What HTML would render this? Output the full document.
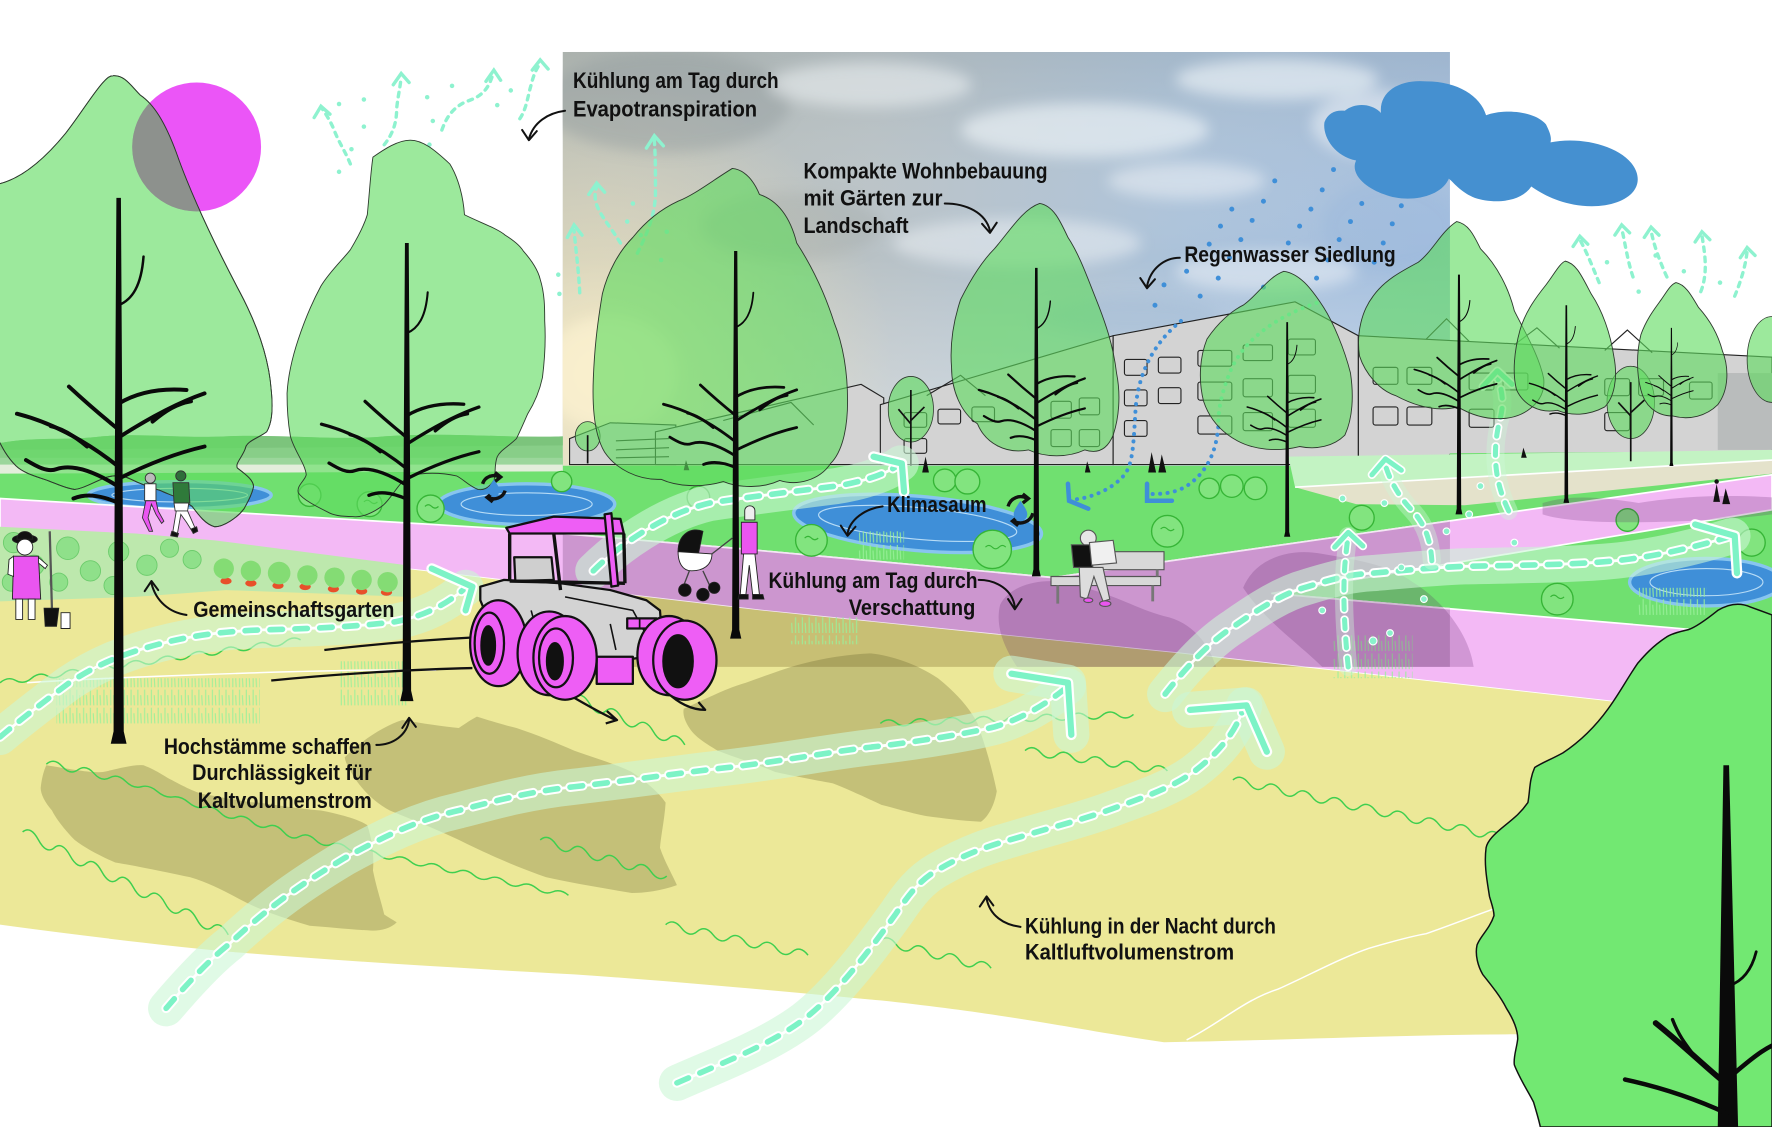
<!DOCTYPE html>
<html><head><meta charset="utf-8">
<style>
html,body{margin:0;padding:0;background:#fff;overflow:hidden;}
svg{display:block;}
.lb{font-family:"Liberation Sans Narrow","Liberation Sans",sans-serif;font-size:20px;font-weight:bold;fill:#111;}
</style></head><body>
<svg xmlns="http://www.w3.org/2000/svg" xmlns:xlink="http://www.w3.org/1999/xlink" width="1772" height="1127" viewBox="0 0 1568 997" preserveAspectRatio="none">
<defs>
  <linearGradient id="skyH" x1="0" y1="0" x2="1" y2="0">
    <stop offset="0" stop-color="#b6bbb4"/>
    <stop offset="0.35" stop-color="#b9c2c6"/>
    <stop offset="0.7" stop-color="#abc2da"/>
    <stop offset="1" stop-color="#a3bedf"/>
  </linearGradient>
  <linearGradient id="skyV" x1="0" y1="0" x2="0" y2="1">
    <stop offset="0" stop-color="#8f9a9c" stop-opacity="0.25"/>
    <stop offset="0.5" stop-color="#ffffff" stop-opacity="0"/>
    <stop offset="1" stop-color="#eef2f4" stop-opacity="0.5"/>
  </linearGradient>
  <radialGradient id="glow" cx="530" cy="330" r="260" gradientUnits="userSpaceOnUse">
    <stop offset="0" stop-color="#f8edc6" stop-opacity="1"/>
    <stop offset="0.5" stop-color="#ece2c0" stop-opacity="0.55"/>
    <stop offset="1" stop-color="#e9dfbf" stop-opacity="0"/>
  </radialGradient>
  <filter id="bl" x="-20%" y="-50%" width="140%" height="200%"><feGaussianBlur stdDeviation="6"/></filter>
  <clipPath id="pb"><rect x="498" y="395" width="785" height="195"/></clipPath>
  <clipPath id="sky"><rect x="498" y="46" width="785" height="366"/></clipPath>
  <pattern id="grass" width="6" height="16" patternUnits="userSpaceOnUse">
    <path d="M2,16 L2,2 M5,16 L4.5,7" stroke="#9af09a" stroke-width="1"/>
  </pattern>

  <path id="cr1" d="M100,67 C110,66 116,76 124,84 C136,92 146,108 156,135 C170,175 192,220 212,258 C228,288 238,318 240,345 C242,365 240,375 236,382 C228,388 218,390 217,397 C214,405 208,410 210,414 C218,420 226,426 224,432 C222,440 218,446 216,450 C210,458 198,466 190,466 C182,464 176,456 170,448 C160,440 150,438 142,434 C130,430 124,428 116,424 C108,420 100,420 92,423 C82,427 74,432 66,433 C58,432 50,428 42,425 C30,421 20,418 14,412 C6,404 2,396 -2,388 L-2,163 C20,158 40,140 58,118 C72,100 84,80 92,72 C95,69 97,67 100,67 Z"/>
  <clipPath id="cT1"><use xlink:href="#cr1" href="#cr1"/></clipPath>

  <g id="sk">
    <path d="M-2,0 L2,0 L3.5,250 L4.5,472 L7,483 L-7,483 L-4.5,472 L-3.5,250 Z" fill="#0a0a0a"/>
    <g fill="none" stroke="#0a0a0a" stroke-linecap="round" stroke-width="3.5">
      <path d="M0,238 C-25,218 -55,200 -90,191"/>
      <path d="M-1,255 C-20,243 -40,235 -55,240 C-63,243 -72,238 -82,232"/>
      <path d="M0,205 C-15,193 -30,180 -44,167"/>
      <path d="M-28,220 C-40,210 -50,204 -60,202"/>
      <path d="M0,212 C25,196 50,182 76,173"/>
      <path d="M1,248 C25,236 50,226 76,220"/>
      <path d="M0,182 C15,173 35,168 60,170"/>
      <path d="M30,198 C42,188 52,182 64,180"/>
      <path d="M0,270 C-18,262 -30,262 -40,266"/>
      <path d="M0,95 C12,90 20,78 22,52" stroke-width="2.2"/>
    </g>
  </g>

  <path id="fA" d="M0,652 C20,635 40,620 60,605 C85,588 110,578 140,570 C170,562 200,558 240,557 C280,556 320,554 350,550 C375,545 395,535 412,520"/>
  <path id="fA2" d="M525,505 C545,485 585,455 628,445 C660,440 700,435 740,430 C770,425 788,417 797,410"/>
  <path id="fB" d="M147,892 C170,865 190,845 203,835 C240,800 270,780 305,759 C340,740 370,725 406,717 C440,708 470,700 508,696 C560,690 600,684 635,680 C690,674 740,664 779,660 C820,655 860,648 880,643 C905,636 930,620 945,607"/>
  <path id="fC" d="M599,958 C640,940 680,925 711,902 C740,880 770,840 793,808 C805,790 815,778 829,770 C860,752 880,747 904,740 C930,732 955,726 980,717 C1010,706 1035,698 1056,683 C1080,665 1095,645 1101,624"/>
  <path id="fD" d="M1031,614 C1050,590 1070,568 1092,554 C1115,538 1135,525 1157,519 C1180,512 1195,508 1215,507 C1250,504 1270,502 1296,501 C1340,500 1380,500 1419,497 C1460,494 1500,484 1533,474"/>
  <path id="hA" d="M382,503 L418,519 L412,540"/>
  <path id="hA2" d="M773,404 L798,410 L800,435"/>
  <path id="hB" d="M895,596 L945,604 L948,650"/>
  <path id="hC" d="M1053,628 L1103,624 L1121,665"/>
  <path id="hD" d="M1500,464 L1535,474 L1537,507"/>
  <path id="e1" d="M1193,590 C1190,560 1188,530 1190,500 C1191,490 1192,480 1193,474"/>
  <path id="e2" d="M1267,496 C1266,480 1262,465 1250,452 C1238,440 1230,425 1226,412"/>
  <path id="e3" d="M1335,452 C1322,425 1320,398 1328,368 C1331,355 1329,345 1325,334"/>
  <path id="h1" d="M1181,484 L1193,471 L1206,483"/>
  <path id="h2" d="M1214,420 L1226,406 L1240,416"/>
  <path id="h3" d="M1312,342 L1325,328 L1338,340"/>
</defs>

<rect width="1568" height="997" fill="#fff"/>

<!-- SKY PHOTO -->
<rect x="498" y="46" width="785" height="366" fill="url(#skyH)"/>
<rect x="498" y="46" width="785" height="366" fill="url(#skyV)"/>
<rect x="498" y="46" width="785" height="366" fill="url(#glow)"/>
<g filter="url(#bl)" clip-path="url(#sky)">
  <ellipse cx="590" cy="90" rx="110" ry="45" fill="#939c9e" opacity="0.45"/>
  <ellipse cx="700" cy="200" rx="80" ry="30" fill="#a0a6a3" opacity="0.35"/>
  <ellipse cx="770" cy="75" rx="90" ry="20" fill="#eef2f4" opacity="0.55"/>
  <ellipse cx="960" cy="115" rx="110" ry="24" fill="#f2f6fa" opacity="0.6"/>
  <ellipse cx="1130" cy="70" rx="90" ry="18" fill="#f2f6fa" opacity="0.6"/>
  <ellipse cx="1050" cy="160" rx="70" ry="16" fill="#f2f6fa" opacity="0.5"/>
  <ellipse cx="900" cy="215" rx="110" ry="22" fill="#f0f4f8" opacity="0.5"/>
  <ellipse cx="1120" cy="240" rx="80" ry="18" fill="#f2f6fa" opacity="0.5"/>
  <ellipse cx="1220" cy="110" rx="60" ry="30" fill="#f4f7fb" opacity="0.5"/>
  <ellipse cx="1000" cy="280" rx="80" ry="18" fill="#a3bcd6" opacity="0.5"/>
  <ellipse cx="1230" cy="200" rx="60" ry="40" fill="#9db9dc" opacity="0.5"/>
  <ellipse cx="540" cy="330" rx="60" ry="50" fill="#fbf1d0" opacity="0.7"/>
</g>

<!-- left distant horizon -->
<path d="M0,392 C30,386 60,390 90,386 C130,383 160,388 200,386 C250,384 300,390 340,386 C400,382 450,388 498,386 L498,412 L0,412 Z" fill="#88ce88"/>
<path d="M0,392 C30,386 60,390 90,386 C130,383 160,388 200,386 C250,384 300,390 340,386 C400,382 450,388 498,386 L498,394 L0,398 Z" fill="#7cc47c"/>
<rect x="0" y="405" width="498" height="7" fill="#9bd69b"/>
<rect x="0" y="411" width="498" height="8" fill="#e3eedb"/>

<!-- BUILDINGS -->
<g fill="#d3d3d3" stroke="#222" stroke-width="1">
  <path d="M504,411 L504,388 L540,374 L598,376 L598,411 Z"/>
  <path d="M580,411 L580,382 L762,340 L782,352 L782,411 Z"/>
  <path d="M779,411 L779,358 L985,297 L985,411 Z"/>
  <path d="M985,411 L985,297 L1146,267 L1202,297 L1202,411 Z"/>
  <path d="M1202,411 L1202,297 L1568,316 L1568,400 L1283,402 L1283,411 Z"/>
</g>
<rect x="1520" y="330" width="48" height="68" fill="#b9bcbc"/>
<g fill="none" stroke="#222" stroke-width="1">
  <path d="M545,390 L592,388 M545,398 L592,396 M545,405 L592,404"/>
  <path d="M640,372 L700,356 L720,376 M820,350 L850,332 L872,350 M1262,300 L1280,282 L1300,302 M1420,310 L1440,292 L1462,312 M1340,305 L1360,290 L1380,308"/>
  <rect x="800" y="365" width="20" height="13" rx="2"/><rect x="830" y="362" width="20" height="13" rx="2"/><rect x="860" y="360" width="20" height="13" rx="2"/><rect x="930" y="355" width="18" height="15" rx="2"/><rect x="955" y="352" width="18" height="15" rx="2"/>
  <rect x="800" y="388" width="20" height="13" rx="2"/><rect x="930" y="380" width="18" height="15" rx="2"/><rect x="955" y="380" width="18" height="15" rx="2"/>
  <rect x="995" y="318" width="20" height="14" rx="2"/><rect x="1025" y="316" width="20" height="14" rx="2"/><rect x="1060" y="310" width="30" height="14" rx="2"/><rect x="1100" y="305" width="26" height="14" rx="2"/><rect x="1140" y="300" width="24" height="14" rx="2"/>
  <rect x="995" y="345" width="20" height="14" rx="2"/><rect x="1025" y="343" width="20" height="14" rx="2"/><rect x="1060" y="338" width="30" height="16" rx="2"/><rect x="1100" y="335" width="26" height="16" rx="2"/><rect x="1140" y="332" width="24" height="16" rx="2"/>
  <rect x="995" y="372" width="20" height="14" rx="2"/><rect x="1060" y="368" width="30" height="16" rx="2"/><rect x="1100" y="365" width="26" height="16" rx="2"/><rect x="1140" y="362" width="24" height="16" rx="2"/>
  <rect x="1215" y="325" width="22" height="15" rx="2"/><rect x="1245" y="325" width="22" height="15" rx="2"/><rect x="1300" y="330" width="22" height="15" rx="2"/><rect x="1330" y="330" width="22" height="15" rx="2"/><rect x="1420" y="335" width="22" height="15" rx="2"/><rect x="1450" y="335" width="22" height="15" rx="2"/><rect x="1495" y="338" width="20" height="15" rx="2"/>
  <rect x="1215" y="360" width="22" height="16" rx="2"/><rect x="1245" y="360" width="22" height="16" rx="2"/><rect x="1300" y="362" width="22" height="16" rx="2"/><rect x="1420" y="365" width="22" height="16" rx="2"/>
</g>

<!-- MEADOW -->
<path d="M0,419 L498,417 L498,412 L1283,412 L1283,401 L1568,399 L1568,700 L0,700 Z" fill="#70e070"/>
<path d="M1140,404 L1568,398 L1568,407 L1146,431 Z" fill="#c3f3c3"/>
<path d="M1146,431 L1568,407 L1568,419 L1296,447 L1200,446 Z" fill="#e4e2cb"/>
<path d="M1146,431 L1568,407" stroke="#fff" stroke-width="1.5" fill="none"/>

<!-- PONDS -->
<g stroke="#88c5ef" stroke-width="3">
  <ellipse cx="159" cy="438" rx="81" ry="12" fill="#3f8fd8"/>
  <ellipse cx="466" cy="446" rx="78" ry="18" fill="#3f8fd8"/>
  <ellipse cx="812" cy="463" rx="110" ry="24" fill="#3f8fd8" transform="rotate(5 812 463)"/>
  <ellipse cx="1510" cy="515" rx="68" ry="21" fill="#3f8fd8"/>
</g>
<g fill="none" stroke="#b7dcf6" stroke-width="1">
  <ellipse cx="159" cy="438" rx="60" ry="6"/>
  <ellipse cx="466" cy="446" rx="58" ry="10"/>
  <ellipse cx="812" cy="463" rx="88" ry="14" transform="rotate(5 812 463)"/>
  <ellipse cx="1510" cy="515" rx="50" ry="12"/>
</g>

<!-- PINK PATH -->
<path d="M0,441 L450,468 L650,485 L932,511 L1568,420 L1568,451 L1125,525 L1568,563 L1568,645 L1439,622 L1044,578 L673,540 L366,504 L183,490 L0,478 Z" fill="#f3b9f5" stroke="#fff" stroke-width="1.5"/>

<!-- YELLOW GROUND -->
<path d="M0,478 L183,490 L366,504 L673,540 L1044,578 L1439,622 L1568,645 L1568,935 L1342,915 C1250,915 1150,920 1030,922 C960,912 900,898 779,885 C700,878 600,868 508,862 C400,856 300,850 203,842 C130,835 60,826 0,818 Z" fill="#ece898"/>

<!-- photo-darkened copies -->
<g clip-path="url(#pb)">
  <path d="M0,441 L450,468 L650,485 L932,511 L1568,420 L1568,451 L1125,525 L1568,563 L1568,645 L1439,622 L1044,578 L673,540 L366,504 L183,490 L0,478 Z" fill="#cc96cf" stroke="#f4e6f4" stroke-width="1.5"/>
  <path d="M0,478 L183,490 L366,504 L673,540 L1044,578 L1439,622 L1568,645 L1568,900 L0,900 Z" fill="#c8bf74"/>
</g>

<!-- GARDEN -->
<path d="M0,466 L120,472 L190,478 L360,500 L362,528 L200,522 L120,528 L0,532 Z" fill="#bde8ad"/>
<g fill="#8fe08a" stroke="#6ccc6c" stroke-width="0.8">
  <circle cx="12" cy="480" r="9"/><circle cx="30" cy="500" r="9"/><circle cx="60" cy="485" r="10"/><circle cx="80" cy="505" r="9"/><circle cx="105" cy="488" r="9"/><circle cx="130" cy="500" r="9"/><circle cx="150" cy="485" r="8"/><circle cx="170" cy="495" r="8"/><circle cx="52" cy="515" r="8"/><circle cx="100" cy="518" r="8"/><circle cx="10" cy="515" r="8"/>
</g>
<g fill="#e8502a">
  <ellipse cx="200" cy="514" rx="5" ry="3"/><ellipse cx="222" cy="516" rx="5" ry="3"/><ellipse cx="246" cy="518" rx="5" ry="3"/><ellipse cx="270" cy="519" rx="5" ry="3"/><ellipse cx="295" cy="521" rx="5" ry="3"/><ellipse cx="320" cy="523" rx="5" ry="3"/><ellipse cx="342" cy="524" rx="5" ry="3"/>
</g>
<g fill="#84dc74">
  <circle cx="198" cy="503" r="9"/><circle cx="222" cy="505" r="9"/><circle cx="247" cy="507" r="10"/><circle cx="272" cy="509" r="9"/><circle cx="296" cy="511" r="9"/><circle cx="320" cy="513" r="9"/><circle cx="343" cy="515" r="9"/>
</g>

<!-- BUSHES -->
<g fill="#82e47f" stroke="#36b536" stroke-width="1.2">
  <circle cx="718" cy="478" r="14"/><circle cx="878" cy="486" r="17"/><circle cx="836" cy="425" r="10"/><circle cx="856" cy="426" r="11"/>
  <circle cx="1033" cy="470" r="14"/><circle cx="1070" cy="432" r="9"/><circle cx="1090" cy="430" r="10"/><circle cx="1111" cy="432" r="10"/>
  <circle cx="1205" cy="458" r="11"/><circle cx="1378" cy="530" r="14"/><circle cx="1440" cy="460" r="10"/><circle cx="1550" cy="480" r="12"/>
  <circle cx="274" cy="438" r="10"/><circle cx="327" cy="446" r="11"/><circle cx="381" cy="450" r="12"/><circle cx="497" cy="426" r="9"/><circle cx="618" cy="440" r="10"/>
</g>
<g fill="none" stroke="#36b536" stroke-width="1">
  <path d="M712,476 q3,-3 6,0 t6,0 M872,484 q3,-3 6,0 t6,0 t6,0 M1027,468 q3,-3 6,0 t6,0 M1372,528 q3,-3 6,0 t6,0 M376,448 q3,-3 6,0 t6,0 M322,444 q3,-3 6,0 t6,0"/>
</g>

<!-- grass texture -->
<g fill="url(#grass)" opacity="0.9">
  <rect x="50" y="600" width="180" height="40"/>
  <rect x="300" y="585" width="60" height="40"/>
  <rect x="700" y="545" width="60" height="25"/>
  <rect x="1180" y="560" width="70" height="40"/>
  <rect x="760" y="470" width="40" height="25"/>
  <rect x="1450" y="520" width="60" height="25"/>
</g>

<!-- GROUND SHADOWS -->
<g fill="#5f5a28" fill-opacity="0.28">
  <path d="M41,677 C60,680 80,684 91,683 C105,680 118,676 127,677 C140,682 147,688 152,690 C165,697 175,702 183,703 C205,707 220,710 229,710 C250,713 270,716 284,717 C300,720 318,725 325,730 C330,745 331,760 330,770 C333,785 338,800 340,809 C346,813 350,815 351,816 C345,822 335,824 325,823 C305,822 290,820 274,819 C250,812 230,805 213,796 C198,788 185,781 168,776 C140,770 120,766 102,763 C88,757 75,750 66,743 C58,735 50,725 46,717 C40,710 36,703 36,697 C37,688 39,681 41,677 Z"/>
  <path d="M305,670 C320,655 340,642 356,637 C375,640 392,643 406,644 C412,640 418,636 422,634 C435,638 448,642 457,644 C475,650 492,657 508,664 C525,670 545,676 559,683 C572,692 582,700 589,710 C588,725 585,738 584,750 C588,762 595,774 599,783 C585,788 570,790 559,790 C535,786 505,781 483,776 C455,766 430,755 406,743 C385,733 362,724 345,717 C332,710 322,700 315,690 C310,682 306,676 305,670 Z"/>
  <path d="M605,627 C625,618 645,608 660,604 C680,597 695,591 711,587 C730,582 750,579 770,578 C790,580 812,588 830,600 C845,612 858,626 865,640 C872,660 878,680 882,700 C880,712 875,722 868,727 C850,726 835,724 820,722 C805,719 792,715 780,712 C765,705 750,698 737,693 C720,690 700,686 686,683 C670,676 650,670 635,664 C625,658 615,652 610,644 C606,638 604,632 605,627 Z"/>
</g>
<g fill="#5a1f64" fill-opacity="0.22">
  <path d="M885,535 C895,515 930,508 960,520 C990,528 1010,540 1030,545 C1055,550 1070,570 1076,590 L900,590 C890,575 880,555 885,535 Z"/>
  <path d="M1100,520 C1110,495 1140,484 1170,490 C1200,495 1230,500 1250,515 C1275,530 1300,560 1304,590 L1170,590 C1150,570 1120,550 1100,520 Z"/>
  <path d="M1365,445 C1390,437 1420,440 1450,445 C1480,440 1520,437 1568,440 L1568,455 C1530,460 1480,462 1440,462 C1410,462 1380,460 1365,455 Z"/>
</g>

<!-- wavy green lines -->
<g fill="none" stroke="#3fcf4f" stroke-width="1.3">
  <path d="M41,676 q7,-6 14,2 t14,3 t14,3 t14,4 t14,3 t14,5 t14,4 t14,5 t14,5 t14,4 t14,5 t14,4 t14,4 t14,4 t14,5 t14,4 t14,3 t14,4 t14,3 t14,3 t14,3 t14,3 t14,3 t14,3 t14,3 t14,3 t14,3 t14,3 t14,3 t14,3 t14,3 t14,3 t14,3"/>
  <path d="M20,736 q7,-6 14,7 t14,7 t14,7 t14,7 t14,7 t14,7 t14,7 t14,7 t14,7 t14,7 t14,7 t14,7 t14,7"/>
  <path d="M478,743 q7,-6 14,4 t14,4 t14,4 t14,4 t14,4 t14,4 t14,4 t14,4"/>
  <path d="M589,818 q7,-6 14,3 t14,3 t14,3 t14,3 t14,3 t14,3 t14,3 t14,3 t14,3"/>
  <path d="M907,664 q7,-6 14,2 t14,2 t14,2 t14,2 t14,2 t14,2 t14,2 t14,2 t14,2"/>
  <path d="M1091,690 q7,-6 14,3 t14,3 t14,3 t14,3 t14,3 t14,3 t14,3 t14,3 t14,3 t14,3 t14,3 t14,3 t14,3 t14,3 t14,3 t14,3 t14,3 t14,2"/>
  <path d="M508,617 q7,-6 14,6 t14,6 t14,6 t14,6 t14,6 t14,6 t14,6"/>
  <path d="M0,604 q7,-6 14,-2 t14,-2 t14,-2 t14,-2 t14,-2 t14,-2 t14,-2 t14,-2 t14,-2 t14,-2 t14,-2 t14,-2 t14,-2 t14,-2 t14,-2 t14,-2 t14,-2 t14,-2 t14,-2"/>
  <path d="M779,640 q7,-6 14,-0.5 t14,-0.5 t14,-0.5 t14,-0.5 t14,-0.5 t14,-0.5 t14,-0.5 t14,-0.5 t14,-0.5 t14,-0.5 t14,-0.5 t14,-0.5 t14,-0.5 t14,-0.5 t14,-0.5 t14,-0.5"/>
  <path d="M779,832 q7,-6 14,3.5 t14,3.5 t14,3.5 t14,3.5 t14,3.5 t14,3.5 t14,3.5"/>
</g>
<g fill="none" stroke="#fff" stroke-width="1.3">
  <path d="M1050,920 C1080,905 1100,885 1131,875 C1160,862 1185,848 1211,839 C1235,832 1250,828 1262,826 C1285,818 1305,810 1322,804"/>
  <path d="M24,604 C80,600 150,598 230,595 C300,593 350,592 386,593"/>
</g>

<!-- small background trees -->
<g fill="#5fdc5f" fill-opacity="0.62" stroke="#2d3a2d" stroke-width="0.7">
  <ellipse cx="520" cy="386" rx="11" ry="13"/>
  <ellipse cx="806" cy="362" rx="20" ry="29"/>
  <ellipse cx="1443" cy="356" rx="21" ry="32"/>
  <ellipse cx="1568" cy="318" rx="22" ry="38"/>
</g>
<g stroke="#111" stroke-width="1.5" fill="none">
  <path d="M520,385 L520,410"/><path d="M806,345 L806,412 M806,375 L795,362 M806,372 L818,360"/><path d="M1443,338 L1443,408 M1443,368 L1432,356 M1443,365 L1455,354"/>
</g>
<!-- small people background -->
<g fill="#111">
  <path d="M816,418 L819,404 L822,418 Z"/><path d="M1016,418 L1019,400 L1023,418 Z"/><path d="M1025,418 L1028,402 L1032,418 Z"/>
  <path d="M1516,444 L1519,428 L1522,444 Z"/><path d="M1524,446 L1527,432 L1531,446 Z"/><circle cx="1519" cy="426" r="2"/>
  <path d="M960,418 L962,408 L965,418 Z"/><path d="M1346,405 L1348,396 L1351,405 Z"/><path d="M605,416 L607,407 L610,416 Z"/>
</g>

<!-- COLD AIR FLOW BANDS -->
<g fill="none" stroke-linecap="round" stroke-linejoin="round">
  <g stroke="#ccf7d6" stroke-opacity="0.6" stroke-width="32">
    <use href="#fA" xlink:href="#fA"/><use href="#fA2" xlink:href="#fA2"/><use href="#fB" xlink:href="#fB"/><use href="#fC" xlink:href="#fC"/><use href="#fD" xlink:href="#fD"/>
    <use href="#hB" xlink:href="#hB"/><use href="#hC" xlink:href="#hC"/>
  </g>
  <g stroke="#fff" stroke-width="2.5">
    <use href="#fA" xlink:href="#fA"/><use href="#fA2" xlink:href="#fA2"/><use href="#fB" xlink:href="#fB"/><use href="#fC" xlink:href="#fC"/><use href="#fD" xlink:href="#fD"/>
  </g>
  <g stroke="#fff" stroke-width="8.5" stroke-dasharray="11 11">
    <use href="#fA" xlink:href="#fA"/><use href="#fA2" xlink:href="#fA2"/><use href="#fB" xlink:href="#fB"/><use href="#fC" xlink:href="#fC"/><use href="#fD" xlink:href="#fD"/>
  </g>
  <g stroke="#7df3c6" stroke-width="5" stroke-dasharray="11 11">
    <use href="#fA" xlink:href="#fA"/><use href="#fA2" xlink:href="#fA2"/><use href="#fB" xlink:href="#fB"/><use href="#fC" xlink:href="#fC"/><use href="#fD" xlink:href="#fD"/>
  </g>
  <g stroke="#fff" stroke-width="9.5">
    <use href="#hA" xlink:href="#hA"/><use href="#hA2" xlink:href="#hA2"/><use href="#hB" xlink:href="#hB"/><use href="#hC" xlink:href="#hC"/><use href="#hD" xlink:href="#hD"/>
  </g>
  <g stroke="#7df3c6" stroke-width="5.5">
    <use href="#hA" xlink:href="#hA"/><use href="#hA2" xlink:href="#hA2"/><use href="#hB" xlink:href="#hB"/><use href="#hC" xlink:href="#hC"/><use href="#hD" xlink:href="#hD"/>
  </g>
  <!-- evapotranspiration vertical arrows -->
  <g stroke="#ccf7d6" stroke-opacity="0.4" stroke-width="16">
    <use href="#e1" xlink:href="#e1"/><use href="#e2" xlink:href="#e2"/><use href="#e3" xlink:href="#e3"/>
  </g>
  <g stroke="#fff" stroke-width="7.5" stroke-dasharray="8 9">
    <use href="#e1" xlink:href="#e1"/><use href="#e2" xlink:href="#e2"/><use href="#e3" xlink:href="#e3"/>
  </g>
  <g stroke="#7df3c6" stroke-width="4.5" stroke-dasharray="8 9">
    <use href="#e1" xlink:href="#e1"/><use href="#e2" xlink:href="#e2"/><use href="#e3" xlink:href="#e3"/>
  </g>
  <g stroke="#fff" stroke-width="7.5"><use href="#h1" xlink:href="#h1"/><use href="#h2" xlink:href="#h2"/><use href="#h3" xlink:href="#h3"/></g>
  <g stroke="#7df3c6" stroke-width="4.5"><use href="#h1" xlink:href="#h1"/><use href="#h2" xlink:href="#h2"/><use href="#h3" xlink:href="#h3"/></g>
</g>
<g fill="#8af2cc" stroke="#fff" stroke-width="1">
  <circle cx="1215" cy="567" r="3.5"/><circle cx="1230" cy="560" r="3"/><circle cx="1260" cy="530" r="3"/><circle cx="1280" cy="470" r="3"/><circle cx="1300" cy="455" r="3"/><circle cx="1240" cy="502" r="3"/><circle cx="1188" cy="441" r="3"/><circle cx="1225" cy="445" r="3"/><circle cx="1310" cy="430" r="3"/><circle cx="1340" cy="480" r="3"/><circle cx="1170" cy="540" r="3"/>
</g>

<!-- top-left evaporation squiggles -->
<g fill="none" stroke="#8ef2cf" stroke-width="3" stroke-linecap="round">
  <g stroke-dasharray="4 5">
    <path d="M310,145 C306,135 300,126 296,116 C293,108 289,102 285,96"/>
    <path d="M340,128 C348,118 351,108 351,96 C352,86 354,78 355,68"/>
    <path d="M391,115 C395,104 400,96 412,90 C425,86 432,80 436,66"/>
    <path d="M460,105 C466,96 467,85 470,75 C472,67 474,62 478,56"/>
    <path d="M564,224 C572,208 580,190 580,170 C580,150 580,138 579,124"/>
    <path d="M549,215 C540,200 530,190 527,178 C526,172 527,168 528,165"/>
    <path d="M513,259 C512,240 510,225 508,204"/>
    <path d="M1415,250 C1410,238 1405,225 1398,212"/>
    <path d="M1445,245 C1440,230 1438,215 1435,202"/>
    <path d="M1475,245 C1468,230 1463,215 1461,204"/>
    <path d="M1505,258 C1512,240 1508,222 1506,208"/>
    <path d="M1535,262 C1542,245 1545,232 1546,222"/>
  </g>
  <path d="M278,104 L284,94 L292,101"/><path d="M348,75 L355,65 L362,73"/><path d="M430,72 L437,62 L443,71"/><path d="M471,62 L478,53 L485,61"/>
  <path d="M572,131 L579,120 L587,129"/><path d="M521,172 L528,162 L535,170"/><path d="M502,210 L508,199 L515,208"/>
  <path d="M1392,218 L1398,209 L1405,216"/><path d="M1429,208 L1435,199 L1442,206"/><path d="M1455,210 L1461,201 L1468,208"/><path d="M1500,214 L1506,205 L1513,212"/><path d="M1540,228 L1546,219 L1553,226"/>
</g>
<g fill="#8ef2cf">
  <circle cx="300" cy="92" r="2"/><circle cx="322" cy="88" r="2"/><circle cx="322" cy="112" r="2"/><circle cx="311" cy="132" r="2"/><circle cx="300" cy="152" r="2"/><circle cx="378" cy="86" r="2"/><circle cx="383" cy="107" r="2"/><circle cx="400" cy="76" r="2"/><circle cx="440" cy="93" r="2"/><circle cx="452" cy="80" r="2"/><circle cx="380" cy="128" r="2"/><circle cx="494" cy="243" r="2"/><circle cx="495" cy="260" r="2"/><circle cx="560" cy="180" r="2"/><circle cx="555" cy="196" r="2"/><circle cx="567" cy="208" r="2"/><circle cx="590" cy="205" r="2"/><circle cx="585" cy="230" r="2"/><circle cx="1422" cy="232" r="2"/><circle cx="1450" cy="258" r="2"/><circle cx="1490" cy="240" r="2"/><circle cx="1522" cy="250" r="2"/><circle cx="1465" cy="226" r="2"/>
</g>

<!-- RAIN -->
<g fill="#3f8fd8">
  <circle cx="1180" cy="150" r="2.2"/><circle cx="1170" cy="168" r="2.2"/><circle cx="1160" cy="185" r="2.2"/><circle cx="1150" cy="200" r="2.2"/><circle cx="1140" cy="215" r="2.2"/>
  <circle cx="1205" cy="180" r="2.2"/><circle cx="1195" cy="196" r="2.2"/><circle cx="1185" cy="212" r="2.2"/><circle cx="1175" cy="230" r="2.2"/><circle cx="1165" cy="246" r="2.2"/>
  <circle cx="1240" cy="182" r="2.2"/><circle cx="1232" cy="198" r="2.2"/><circle cx="1224" cy="215" r="2.2"/><circle cx="1216" cy="232" r="2.2"/>
  <circle cx="1128" cy="160" r="2.2"/><circle cx="1118" cy="178" r="2.2"/><circle cx="1108" cy="195" r="2.2"/><circle cx="1098" cy="212" r="2.2"/><circle cx="1088" cy="228" r="2.2"/><circle cx="1078" cy="246" r="2.2"/>
  <circle cx="1090" cy="185" r="2.2"/><circle cx="1080" cy="200" r="2.2"/><circle cx="1070" cy="216" r="2.2"/><circle cx="1030" cy="252" r="2.2"/><circle cx="1022" cy="270" r="2.2"/><circle cx="1050" cy="240" r="2.2"/><circle cx="1062" cy="262" r="2.2"/><circle cx="1118" cy="254" r="2.2"/>
</g>
<g fill="none" stroke-linecap="round">
  <path d="M1045,284 C1025,300 1008,325 1005,360 C1003,390 1003,410 995,420 C985,432 968,440 950,442" stroke="#3f8fd8" stroke-width="3.5" stroke-dasharray="0.1 6.5"/>
  <path d="M1165,268 C1130,280 1100,300 1088,330 C1080,350 1078,365 1078,375" stroke="#7df3c6" stroke-width="3.5" stroke-dasharray="0.1 6.5"/>
  <path d="M1078,378 C1076,400 1068,418 1050,430 C1040,436 1030,437 1019,437" stroke="#3f8fd8" stroke-width="3.5" stroke-dasharray="0.1 6.5"/>
  <path d="M945,428 L946,443 L963,450" stroke="#3f8fd8" stroke-width="4"/>
  <path d="M1015,428 L1015,443 L1037,443" stroke="#3f8fd8" stroke-width="4"/>
</g>

<!-- SUN -->
<circle cx="174" cy="130" r="57" fill="#eb55f7"/>

<!-- TREE CROWNS -->
<g fill="#5fdc5f" fill-opacity="0.62" stroke="#2d3a2d" stroke-width="0.8">
  <use href="#cr1" xlink:href="#cr1"/>
  <path d="M363,124 C374,124 384,132 398,145 C406,158 410,175 411,190 C425,197 440,202 447,208 C455,213 460,217 463,222 C471,231 476,239 478,247 C482,260 482,272 482,284 C483,300 482,318 480,334 C477,348 472,358 467,366 C463,375 460,382 457,388 C450,395 443,398 440,404 C437,412 439,420 437,425 C433,431 428,434 423,433 C415,430 410,424 404,421 C390,418 375,418 362,421 C352,428 347,440 339,447 C330,454 320,458 312,457 C302,457 295,456 290,453 C280,448 268,442 264,436 C262,430 270,425 271,420 C270,410 260,398 257,386 C255,375 254,360 254,348 C255,330 259,315 264,300 C270,282 277,266 284,253 C292,240 303,230 310,221 C316,211 322,200 325,190 C327,170 328,152 330,139 C340,132 352,124 363,124 Z"/>
  <path d="M648,149 C660,150 668,162 672,172 C690,178 700,195 705,215 C718,235 730,260 738,285 C746,305 750,330 750,355 C750,380 745,400 735,410 C725,425 705,430 690,425 C675,432 655,432 640,426 C620,432 598,430 585,424 C565,425 545,415 535,400 C526,385 524,360 525,335 C526,310 528,290 533,260 C538,240 548,222 560,210 C572,195 585,185 600,178 C615,172 630,160 648,149 Z"/>
  <path d="M920,180 C932,182 938,195 945,210 C955,225 962,245 970,265 C978,285 985,305 988,330 C992,350 990,370 985,385 C980,397 972,402 960,398 C945,405 925,405 910,398 C890,402 872,392 865,375 C850,365 842,345 842,325 C840,300 845,280 850,265 C860,245 870,230 880,220 C893,205 905,185 920,180 Z"/>
  <path d="M1136,240 C1150,242 1160,255 1170,270 C1180,285 1190,310 1195,330 C1198,350 1197,370 1190,385 C1180,395 1165,398 1150,395 C1130,400 1110,398 1095,390 C1080,382 1070,370 1065,355 C1060,335 1062,315 1068,300 C1078,285 1090,275 1100,270 C1112,262 1122,245 1136,240 Z"/>
  <path d="M1289,196 C1300,198 1305,210 1310,220 C1325,235 1335,255 1340,275 C1350,295 1362,315 1366,335 C1368,355 1350,368 1333,370 C1315,372 1300,366 1290,360 C1270,365 1250,358 1235,350 C1220,345 1208,330 1203,315 C1200,295 1205,275 1215,262 C1225,248 1240,240 1255,232 C1268,222 1275,205 1289,196 Z"/>
  <path d="M1385,231 C1395,233 1400,245 1408,260 C1418,275 1425,295 1428,315 C1432,335 1428,352 1420,360 C1405,368 1390,368 1378,363 C1362,366 1348,358 1342,345 C1338,330 1340,310 1345,292 C1350,275 1360,262 1368,252 C1375,243 1380,233 1385,231 Z"/>
  <path d="M1483,250 C1492,252 1497,262 1503,272 C1512,282 1520,295 1524,310 C1530,325 1530,345 1520,358 C1510,368 1495,372 1480,368 C1465,368 1455,358 1452,345 C1448,330 1448,312 1452,296 C1457,282 1465,272 1470,265 C1475,258 1478,252 1483,250 Z"/>
</g>
<circle cx="174" cy="130" r="57" fill="#8d918d" clip-path="url(#cT1)"/>
<use href="#cr1" xlink:href="#cr1" fill="none" stroke="#2d3a2d" stroke-width="0.8"/>

<!-- TRUNKS -->
<use href="#sk" xlink:href="#sk" transform="translate(105,175)"/>
<use href="#sk" xlink:href="#sk" transform="translate(360,215) scale(0.839)"/>
<use href="#sk" xlink:href="#sk" transform="translate(651,222) scale(0.71)"/>
<use href="#sk" xlink:href="#sk" transform="translate(917,237) scale(0.565)"/>
<use href="#sk" xlink:href="#sk" transform="translate(1139,285) scale(0.393)"/>
<use href="#sk" xlink:href="#sk" transform="translate(1291,243) scale(0.439)"/>
<use href="#sk" xlink:href="#sk" transform="translate(1386,270) scale(0.362)"/>
<use href="#sk" xlink:href="#sk" transform="translate(1479,290) scale(0.253)"/>

<!-- PEOPLE -->
<g stroke="#333" stroke-width="0.8">
  <circle cx="133" cy="423" r="4.5" fill="#bbb"/>
  <path d="M128,428 L138,428 L138,443 L128,443 Z" fill="#fff"/>
  <path d="M129,443 L126,458 L132,470 L135,470 L131,458 L134,446 L138,455 L143,463 L145,461 L140,452 L138,443 Z" fill="#ea55f0"/>
  <circle cx="160" cy="421" r="4.5" fill="#2f6d3a"/>
  <path d="M153,427 L167,427 L168,445 L154,445 Z" fill="#2f7a3a"/>
  <path d="M154,445 L167,445 L166,452 L155,452 Z" fill="#fff"/>
  <path d="M156,452 L153,470 L157,472 L160,455 L165,462 L170,470 L173,468 L166,452 Z" fill="#fff"/>
  <path d="M152,470 L158,472 L157,475 L151,474 Z M169,468 L174,466 L175,470 L171,472 Z" fill="#111"/>
</g>
<g stroke="#222" stroke-width="0.8">
  <ellipse cx="22" cy="477" rx="11" ry="4" fill="#111"/>
  <path d="M15,477 C15,468 29,468 29,477 Z" fill="#111"/>
  <circle cx="22" cy="484" r="7" fill="#fff"/>
  <path d="M12,492 L34,492 L36,530 L11,530 Z" fill="#ea55f0"/>
  <path d="M8,495 L12,492 L12,510 L7,508 Z M34,493 L42,500 L40,503 L34,498 Z" fill="#fff"/>
  <path d="M14,530 L20,530 L20,548 L14,548 Z M25,530 L31,530 L31,548 L25,548 Z" fill="#fff"/>
  <path d="M44,470 L46,540" stroke="#555" stroke-width="2" fill="none"/>
  <path d="M39,538 L52,538 L50,554 L40,554 Z" fill="#111"/>
  <path d="M54,542 L62,542 L62,556 L54,556 Z" fill="#fff"/>
</g>
<g stroke="#222" stroke-width="0.8">
  <path d="M600,488 C600,472 612,466 622,470 L618,490 Z" fill="#111"/>
  <path d="M600,488 L630,490 C630,500 622,505 612,505 C604,505 600,498 600,488 Z" fill="#fff"/>
  <path d="M610,505 L605,518 M622,505 L628,518 M630,490 L648,476" fill="none" stroke="#444" stroke-width="1.2"/>
  <circle cx="606" cy="522" r="5.5" fill="#111"/><circle cx="622" cy="526" r="5.5" fill="#111"/><circle cx="632" cy="520" r="5" fill="#111"/>
  <path d="M659,452 C659,446 668,446 668,452 L668,460 L659,460 Z" fill="#eee"/>
  <path d="M656,462 L670,462 L670,490 L656,490 Z" fill="#ea55f0"/>
  <path d="M658,490 L668,490 L672,526 L666,526 L663,500 L660,526 L655,526 Z" fill="#fff"/>
  <path d="M654,526 L662,526 L662,530 L653,530 Z M666,526 L675,526 L676,530 L666,530 Z" fill="#111"/>
</g>
<g stroke="#555" stroke-width="1">
  <path d="M966,488 L1030,488 L1030,504 L966,504 Z" fill="#d8d8d8"/>
  <path d="M930,510 L1027,510 L1027,518 L930,518 Z" fill="#d8d8d8"/>
  <path d="M936,518 L936,534 M1020,518 L1020,532 M970,504 L970,510 M1024,504 L1024,510" stroke="#777" stroke-width="2.5"/>
  <circle cx="963" cy="476" r="7" fill="#e6e6e6"/>
  <path d="M948,482 L966,482 L967,502 L950,502 Z" fill="#111"/>
  <path d="M964,480 L985,478 L988,498 L966,500 Z" fill="#f0f0f0"/>
  <path d="M955,502 L976,502 L982,530 L976,532 L968,510 L962,530 L956,528 Z" fill="#ddd"/>
  <ellipse cx="978" cy="534" rx="5" ry="2.5" fill="#ea55f0"/><ellipse cx="963" cy="531" rx="4" ry="2" fill="#ea55f0"/>
</g>

<!-- TRACTOR -->
<g stroke="#111" stroke-width="2" stroke-linejoin="round">
  <path d="M287,575 C330,570 380,566 418,564" fill="none"/>
  <path d="M240,602 C300,596 370,592 418,591" fill="none"/>
  <path d="M478,600 C505,615 525,628 545,637 M537,629 L546,637 L536,640" fill="none"/>
  <path d="M590,612 C600,622 612,628 624,628 L618,621" fill="none"/>
  <path d="M425,519 L446,513 L496,516 L540,522 L572,531 L584,540 L587,578 L572,581 L531,587 L496,584 L466,572 L437,560 L425,531 Z" fill="#d3d3d3"/>
  <path d="M455,493 L488,493 L490,513 L456,514 Z" fill="#cfcfcf"/>
  <path d="M451,472 L451,514 M490,472 L496,522 M552,472 L553,516 M451,514 L553,516" fill="none" stroke-width="3"/>
  <path d="M500,528 L560,540 L572,562 M470,540 L478,570 M540,552 L545,575" fill="none" stroke-width="1.4"/>
  <path d="M448,467 L490,457 L549,459 L552,472 L451,472 Z" fill="#ee5ef5"/>
  <path d="M535,455 L541,454 L547,518 L541,519 Z" fill="#ee5ef5"/>
  <rect x="555" y="547" width="26" height="9" fill="#ee5ef5"/>
  <path d="M566,547 L566,556" stroke-width="1.5"/>
  <rect x="528" y="581" width="32" height="24" fill="#ee5ef5"/>
  <ellipse cx="441" cy="569" rx="25" ry="38" fill="#ee5ef5"/>
  <ellipse cx="433" cy="569" rx="13" ry="27" fill="#ee5ef5"/>
  <ellipse cx="432" cy="571" rx="6" ry="17" fill="#111"/>
  <ellipse cx="486" cy="578" rx="28" ry="37" fill="#ee5ef5"/>
  <ellipse cx="500" cy="582" rx="28" ry="37" fill="#ee5ef5"/>
  <ellipse cx="492" cy="582" rx="15" ry="26" fill="#ee5ef5"/>
  <ellipse cx="491" cy="585" rx="7" ry="16" fill="#111"/>
  <ellipse cx="592" cy="580" rx="28" ry="35" fill="#ee5ef5"/>
  <ellipse cx="606" cy="584" rx="28" ry="35" fill="#ee5ef5"/>
  <ellipse cx="600" cy="585" rx="13" ry="23" fill="#111"/>
</g>

<!-- recycle icons -->
<g fill="none" stroke="#111" stroke-width="3">
  <g transform="translate(903,451)"><path d="M-11,-3 A11.5,11.5 0 0 1 6,-10"/><path d="M11,3 A11.5,11.5 0 0 1 -6,10"/><path d="M2,-14 L7,-10 L2,-6"/><path d="M-2,14 L-7,10 L-2,6"/></g>
  <g transform="translate(437,431)"><path d="M-10,-3 A10.5,10.5 0 0 1 5,-9"/><path d="M10,3 A10.5,10.5 0 0 1 -5,9"/><path d="M1,-13 L6,-9 L1,-5"/><path d="M-1,13 L-6,9 L-1,5"/></g>
</g>
<path d="M903,443 C899,449 897,452 897,455 A6,6 0 0 0 909,455 C909,452 907,449 903,443 Z" fill="#3f8fd8"/>
<path d="M437,424 C434,429 432,431 432,434 A5,5 0 0 0 442,434 C442,431 440,429 437,424 Z" fill="#3f8fd8"/>

<!-- BIG RIGHT TREE -->
<path d="M1568,544 L1549,537 C1540,533 1530,534 1520,540 C1510,548 1500,555 1494,557 C1485,559 1478,561 1474,564 C1462,572 1455,580 1449,587 C1440,600 1432,615 1423,627 C1410,645 1395,658 1383,666 C1372,672 1364,675 1358,679 C1353,690 1354,700 1352,710 C1345,720 1338,725 1332,730 C1322,738 1316,744 1315,750 C1313,765 1316,780 1318,793 C1320,800 1322,805 1322,810 C1318,822 1310,828 1307,836 C1305,845 1308,855 1312,862 C1320,872 1328,882 1333,892 C1340,903 1343,912 1343,919 C1342,928 1339,935 1340,942 C1345,955 1352,965 1357,975 C1360,985 1362,992 1363,997 L1568,997 Z" fill="#72e872" stroke="#111" stroke-width="1.3"/>
<path d="M1525,677 L1530,677 L1538,997 L1520,997 Z" fill="#0a0a0a"/>
<g fill="none" stroke="#0a0a0a" stroke-linecap="round">
  <path d="M1529,960 C1510,945 1490,925 1465,905" stroke-width="5"/>
  <path d="M1528,985 C1500,972 1470,962 1438,955" stroke-width="4"/>
  <path d="M1500,935 C1490,922 1485,915 1480,902" stroke-width="3"/>
  <path d="M1534,950 C1548,938 1558,930 1568,925" stroke-width="4"/>
  <path d="M1530,872 C1542,868 1550,858 1554,842" stroke-width="2.5"/>
</g>

<!-- CLOUD -->
<path d="M1190,98 C1200,90 1215,92 1222,100 C1220,80 1240,70 1262,72 C1290,72 1310,85 1315,102 C1330,96 1358,98 1368,110 C1372,118 1373,122 1372,126 C1400,120 1440,130 1448,152 C1455,172 1430,185 1400,182 C1380,180 1365,172 1355,165 C1345,180 1320,180 1305,175 C1292,170 1285,160 1282,158 C1275,175 1245,180 1225,172 C1205,165 1195,152 1200,142 C1180,138 1170,120 1172,108 C1175,100 1182,97 1190,98 Z" fill="#4590d0"/>

<!-- LABEL ARROWS -->
<g fill="none" stroke="#111" stroke-width="1.8" stroke-linecap="round" stroke-linejoin="round">
  <path d="M500,98 C485,100 472,108 468,123"/><path d="M462,115 L468,124 L475,116"/>
  <path d="M836,180 C855,180 872,188 876,204"/><path d="M869,198 L876,206 L882,197"/>
  <path d="M1044,228 C1030,228 1018,238 1015,253"/><path d="M1009,246 L1015,255 L1022,247"/>
  <path d="M781,448 C765,450 752,460 750,472"/><path d="M744,465 L750,474 L757,466"/>
  <path d="M866,513 C882,513 896,522 898,537"/><path d="M892,530 L898,539 L904,530"/>
  <path d="M165,544 C150,542 138,532 134,516"/><path d="M128,523 L134,514 L140,522"/>
  <path d="M333,659 C348,659 360,650 362,637"/><path d="M356,644 L362,635 L368,643"/>
  <path d="M903,820 C888,818 876,810 873,795"/><path d="M867,802 L873,793 L879,801"/>
</g>

<!-- LABELS -->
<text class="lb" x="507" y="78" textLength="182" lengthAdjust="spacingAndGlyphs">Kühlung am Tag durch</text>
<text class="lb" x="507" y="103" textLength="163" lengthAdjust="spacingAndGlyphs">Evapotranspiration</text>
<text class="lb" x="711" y="158" textLength="216" lengthAdjust="spacingAndGlyphs">Kompakte Wohnbebauung</text>
<text class="lb" x="711" y="182" textLength="123" lengthAdjust="spacingAndGlyphs">mit Gärten zur</text>
<text class="lb" x="711" y="206" textLength="93" lengthAdjust="spacingAndGlyphs">Landschaft</text>
<text class="lb" x="1048" y="232" textLength="187" lengthAdjust="spacingAndGlyphs">Regenwasser Siedlung</text>
<text class="lb" x="785" y="453" textLength="88" lengthAdjust="spacingAndGlyphs">Klimasaum</text>
<text class="lb" x="680" y="520" textLength="185" lengthAdjust="spacingAndGlyphs">Kühlung am Tag durch</text>
<text class="lb" x="751" y="544" textLength="112" lengthAdjust="spacingAndGlyphs">Verschattung</text>
<text class="lb" x="171" y="546" textLength="178" lengthAdjust="spacingAndGlyphs">Gemeinschaftsgarten</text>
<text class="lb" x="145" y="667" textLength="184" lengthAdjust="spacingAndGlyphs">Hochstämme schaffen</text>
<text class="lb" x="170" y="690" textLength="159" lengthAdjust="spacingAndGlyphs">Durchlässigkeit für</text>
<text class="lb" x="175" y="715" textLength="154" lengthAdjust="spacingAndGlyphs">Kaltvolumenstrom</text>
<text class="lb" x="907" y="826" textLength="222" lengthAdjust="spacingAndGlyphs">Kühlung in der Nacht durch</text>
<text class="lb" x="907" y="849" textLength="185" lengthAdjust="spacingAndGlyphs">Kaltluftvolumenstrom</text>
</svg>
</body></html>
